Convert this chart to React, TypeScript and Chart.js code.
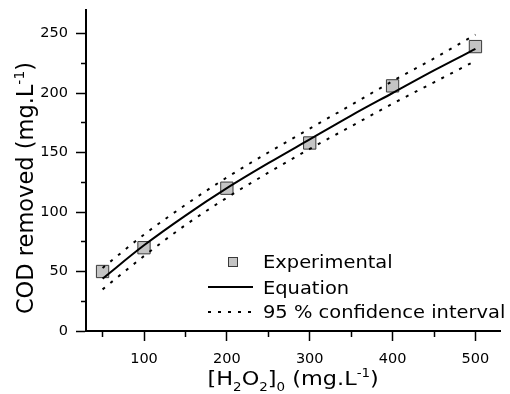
import { useEffect, useRef } from 'react';
import { Chart, registerables } from 'chart.js';
Chart.register(...registerables);

// Experimental points
const expX = [50, 100, 200, 300, 400, 500];
const expY = [50, 70, 120, 158, 206, 239];
// Equation curve
const fitX = [50, 100, 150, 200, 250, 300, 350, 400, 450, 500];
const fitY = [44, 72, 97, 120, 141, 161, 181, 200, 219, 237];
// 95 % confidence interval
const upperY = [53, 81, 106, 129, 150, 170, 190, 210, 229, 249];
const lowerY = [35, 63, 89, 112, 133, 153, 172, 191, 209, 227];

// Axis ticks (major ones are labelled)
const xTicks = [50, 100, 150, 200, 250, 300, 350, 400, 450, 500];
const xLabelled = [100, 200, 300, 400, 500];
const yTicks = [0, 25, 50, 75, 100, 125, 150, 175, 200, 225, 250];
const yLabelled = [0, 50, 100, 150, 200, 250];

const legendLabels = ['Experimental', 'Equation', '95 % confidence interval'];

type Seg = { t: string; k: 'n' | 'sub' | 'sup' };
const xTitle: Seg[] = [
  { t: '[H', k: 'n' }, { t: '2', k: 'sub' }, { t: 'O', k: 'n' }, { t: '2', k: 'sub' },
  { t: ']', k: 'n' }, { t: '0', k: 'sub' }, { t: ' (mg.L', k: 'n' }, { t: '-1', k: 'sup' }, { t: ')', k: 'n' },
];
const yTitle: Seg[] = [
  { t: 'COD removed (mg.L', k: 'n' }, { t: '-1', k: 'sup' }, { t: ')', k: 'n' },
];

const FONT = '"DejaVu Sans", Verdana, sans-serif';
const SQ_FILL = '#c4c4c4';
const SQ_BORDER = '#3a3a3a';

function segFont(k: string, f: number) {
  const s = k === 'n' ? f : Math.round(f * 0.62);
  return `${s}px ${FONT}`;
}
function richWidth(ctx: CanvasRenderingContext2D, segs: Seg[], f: number) {
  let w = 0;
  for (const s of segs) { ctx.font = segFont(s.k, f); w += ctx.measureText(s.t).width; }
  return w;
}
function drawRich(ctx: CanvasRenderingContext2D, segs: Seg[], f: number) {
  let x = 0;
  for (const s of segs) {
    ctx.font = segFont(s.k, f);
    const dy = s.k === 'sub' ? f * 0.32 : s.k === 'sup' ? -f * 0.42 : 0;
    ctx.fillText(s.t, x, dy);
    x += ctx.measureText(s.t).width;
  }
}

const decor = {
  id: 'decor',
  afterDraw(chart: any) {
    const { ctx, chartArea } = chart;
    ctx.save();
    ctx.fillStyle = '#000';
    ctx.textAlign = 'left';
    ctx.textBaseline = 'alphabetic';
    // x title
    const fx = 20, sx = 1.12;
    const w = richWidth(ctx, xTitle, fx) * sx;
    ctx.translate((chartArea.left + chartArea.right) / 2 - w / 2, chart.height - 9);
    ctx.scale(sx, 1);
    drawRich(ctx, xTitle, fx);
    ctx.restore();

    // y title
    ctx.save();
    ctx.fillStyle = '#000';
    ctx.textAlign = 'left';
    ctx.textBaseline = 'alphabetic';
    const fy = 22.5;
    const wy = richWidth(ctx, yTitle, fy);
    ctx.translate(33, 188 + wy / 2);
    ctx.rotate(-Math.PI / 2);
    drawRich(ctx, yTitle, fy);
    ctx.restore();

    // legend
    ctx.save();
    const lf = 18, ls = 1.08;
    const tx = 263;
    ctx.fillStyle = SQ_FILL;
    ctx.fillRect(228.5, 257.5, 9, 9);
    ctx.strokeStyle = SQ_BORDER;
    ctx.lineWidth = 1;
    ctx.strokeRect(228.5, 257.5, 9, 9);
    ctx.strokeStyle = '#000';
    ctx.lineWidth = 2;
    ctx.beginPath(); ctx.moveTo(208, 287); ctx.lineTo(253, 287); ctx.stroke();
    ctx.setLineDash([3, 7]);
    ctx.beginPath(); ctx.moveTo(208, 312); ctx.lineTo(253, 312); ctx.stroke();
    ctx.setLineDash([]);
    ctx.fillStyle = '#000';
    ctx.font = `${lf}px ${FONT}`;
    ctx.textAlign = 'left';
    ctx.textBaseline = 'alphabetic';
    const bases = [268, 294, 318];
    legendLabels.forEach((lab, i) => {
      ctx.save();
      ctx.translate(tx, bases[i]);
      ctx.scale(ls, 1);
      ctx.fillText(lab, 0, 0);
      ctx.restore();
    });
    ctx.restore();
  },
};

export default function App() {
  const ref = useRef<HTMLCanvasElement>(null);
  useEffect(() => {
    if (!ref.current) return;
    // x ticks are stroked from the axis outward, y ticks from the outside inward
    const minorDash = (labelled: number[], dash: number[]) => (c: any) =>
      c.tick && labelled.includes(Math.round(c.tick.value)) ? [] : dash;
    const chart = new Chart(ref.current, {
      type: 'line',
      data: {
        datasets: [
          {
            label: legendLabels[0],
            data: expX.map((x, i) => ({ x, y: expY[i] })),
            showLine: false,
            pointStyle: 'rect',
            pointRadius: 8.7,
            pointBackgroundColor: SQ_FILL,
            pointBorderColor: SQ_BORDER,
            pointBorderWidth: 1,
            order: 10,
          },
          {
            label: legendLabels[1],
            data: fitX.map((x, i) => ({ x, y: fitY[i] })),
            borderColor: '#000',
            borderWidth: 2,
            pointRadius: 0,
            cubicInterpolationMode: 'monotone',
            order: 1,
          },
          {
            label: legendLabels[2],
            data: fitX.map((x, i) => ({ x, y: upperY[i] })),
            borderColor: '#000',
            borderWidth: 2,
            borderDash: [3, 7],
            pointRadius: 0,
            cubicInterpolationMode: 'monotone',
            order: 1,
          },
          {
            label: legendLabels[2] + ' (lower)',
            data: fitX.map((x, i) => ({ x, y: lowerY[i] })),
            borderColor: '#000',
            borderWidth: 2,
            borderDash: [3, 7],
            pointRadius: 0,
            cubicInterpolationMode: 'monotone',
            order: 1,
          },
        ],
      } as any,
      options: {
        animation: false,
        responsive: false,
        devicePixelRatio: 1,
        layout: { padding: { left: 0, top: 9, right: 6, bottom: 0 } },
        plugins: { legend: { display: false }, tooltip: { enabled: false } },
        scales: {
          x: {
            type: 'linear',
            min: 30,
            max: 530,
            grid: {
              drawOnChartArea: false,
              drawTicks: true,
              tickLength: 10,
              tickWidth: 1.5,
              tickColor: '#000',
              tickBorderDash: minorDash(xLabelled, [5, 100]),
            } as any,
            border: { display: true, color: '#000', width: 2 },
            ticks: {
              autoSkip: false,
              maxRotation: 0,
              padding: 10,
              color: '#000',
              font: { family: FONT, size: 14.5 },
              callback: (v: any) => (xLabelled.includes(Math.round(v)) ? String(v) : ''),
            },
            afterBuildTicks: (s: any) => { s.ticks = xTicks.map((value) => ({ value })); },
            afterFit: (s: any) => { s.height = 63; s.paddingLeft = 0; s.paddingRight = 0; },
          },
          y: {
            type: 'linear',
            min: 0,
            max: 270,
            grid: {
              drawOnChartArea: false,
              drawTicks: true,
              tickLength: 10,
              tickWidth: 1.5,
              tickColor: '#000',
              tickBorderDash: minorDash(yLabelled, [0, 5, 5, 100]),
            } as any,
            border: { display: true, color: '#000', width: 2 },
            ticks: {
              autoSkip: false,
              padding: 8,
              color: '#000',
              font: { family: FONT, size: 14.5 },
              callback: (v: any) => (yLabelled.includes(Math.round(v)) ? String(v) : ''),
            },
            afterBuildTicks: (s: any) => { s.ticks = yTicks.map((value) => ({ value })); },
            afterFit: (s: any) => { s.width = 86; s.paddingTop = 0; s.paddingBottom = 0; },
          },
        },
      } as any,
      plugins: [decor],
    });
    return () => chart.destroy();
  }, []);
  return (
    <div style={{ position: 'fixed', left: 0, top: 0, width: 510, height: 394, background: '#fff' }}>
      <canvas ref={ref} width={510} height={394} style={{ display: 'block' }} />
    </div>
  );
}
